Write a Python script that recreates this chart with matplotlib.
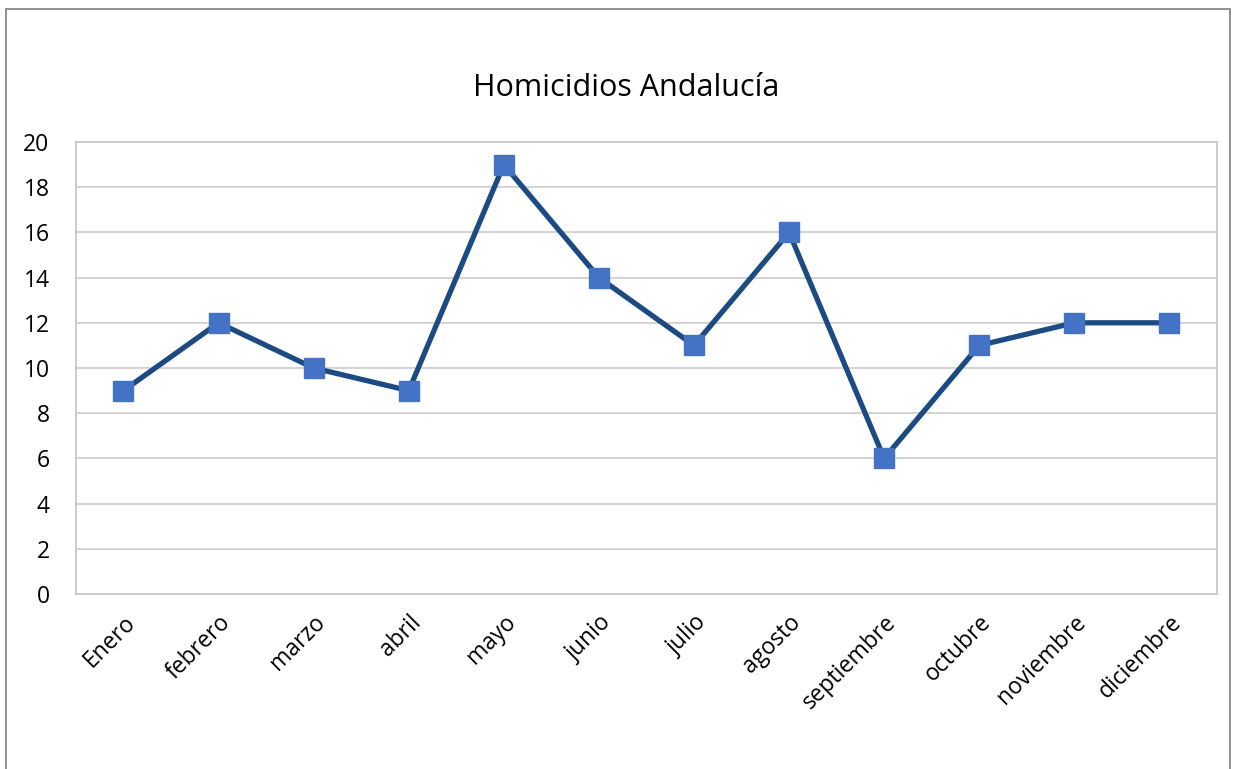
import matplotlib.pyplot as plt
from matplotlib.patches import Rectangle

meses = ['Enero', 'febrero', 'marzo', 'abril', 'mayo', 'junio', 'julio',
         'agosto', 'septiembre', 'octubre', 'noviembre', 'diciembre']
homicidios = [9, 12, 10, 9, 19, 14, 11, 16, 6, 11, 12, 12]

plt.rcParams['font.family'] = ['Open Sans', 'DejaVu Sans']

fig = plt.figure(figsize=(12.37, 7.69), dpi=100)
ax = fig.add_axes([0.0614, 0.2276, 0.9224, 0.5877])

# marco exterior del gráfico
fig.patches.append(Rectangle((0.005, -0.05), 0.989, 1.038, transform=fig.transFigure,
                             fill=False, edgecolor='#7f7f7f', linewidth=1.2))

x = range(len(meses))
ax.plot(x, homicidios, color='#1c4a82', linewidth=3.8, marker='s',
        markersize=14, markerfacecolor='#4472c4', markeredgecolor='#4472c4', zorder=3)

ax.set_xlim(-0.5, len(meses) - 0.5)
ax.set_ylim(0, 20)
ax.set_yticks(range(0, 21, 2))
ax.set_xticks(list(x))
ax.set_xticklabels(meses, rotation=45, ha='right', rotation_mode='anchor')
ax.tick_params(axis='both', length=0, labelsize=16.5, colors='#000000')
ax.tick_params(axis='x', pad=12)
ax.tick_params(axis='y', pad=19)
ax.grid(axis='y', color='#d0d0d0', linewidth=1.3)
ax.set_axisbelow(True)
for s in ax.spines.values():
    s.set_color('#c8c8c8')
    s.set_linewidth(1.3)

fig.text(0.506, 0.886, 'Homicidios Andalucía', ha='center', va='center', fontsize=22)

fig.savefig('out.png', dpi=100, facecolor='white')
